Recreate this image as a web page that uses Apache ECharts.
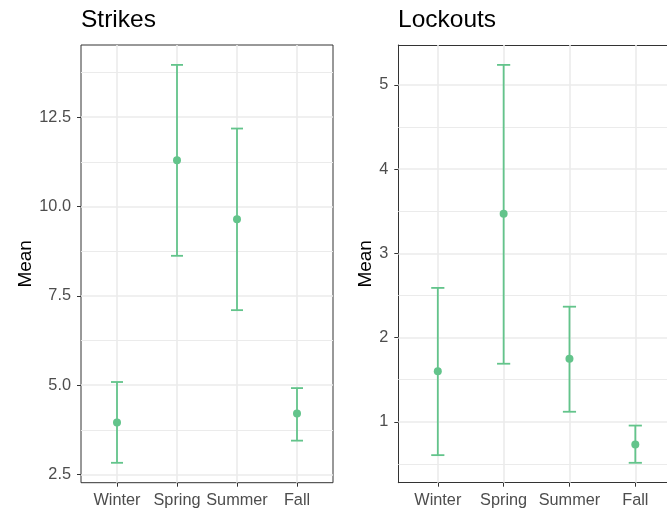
<!DOCTYPE html>
<html>
<head>
<meta charset="utf-8">
<script src="https://cdn.jsdelivr.net/npm/echarts@6/dist/echarts.min.js"></script>
<style>html,body{margin:0;padding:0;background:#fff}#c{width:667px;height:512px}</style>
</head>
<body>
<div id="c"></div>
<script>
const categories = ['Winter', 'Spring', 'Summer', 'Fall'];
const panelTitles = ['Strikes', 'Lockouts'];
const strikesMean = [3.96, 11.29, 9.64, 4.21];
const strikesLower = [2.83, 8.62, 7.10, 3.45];
const strikesUpper = [5.09, 13.96, 12.18, 4.92];
const lockoutsMean = [1.60, 3.47, 1.75, 0.73];
const lockoutsLower = [0.605, 1.69, 1.12, 0.514];
const lockoutsUpper = [2.59, 5.237, 2.367, 0.956];
const strikesTicks = [2.5, 5.0, 7.5, 10.0, 12.5];
const strikesMinor = [3.75, 6.25, 8.75, 11.25, 13.75];
const lockoutsTicks = [1, 2, 3, 4, 5];
const lockoutsMinor = [0.5, 1.5, 2.5, 3.5, 4.5];

const GREEN = '#63c48b';
const BORDER = '#333333';
const FONT = '"Liberation Sans", Arial, sans-serif';
const xPos = categories.map((c, i) => i + 1);

function expand(lo, hi) { const r = hi - lo; return [lo - 0.05 * r, hi + 0.05 * r]; }
const sRange = expand(Math.min(...strikesLower), Math.max(...strikesUpper));
const lRange = expand(Math.min(...lockoutsLower), Math.max(...lockoutsUpper));

// Right panel is wider than the visible canvas (cut off at the right edge)
const W = 667;
const rightLeft = 398.3, rightFullWidth = 276.5;
const rightVisible = W - rightLeft;
const xMin = 0.4, xMaxFull = 4.6;
const xMaxRight = xMin + (xMaxFull - xMin) * rightVisible / rightFullWidth;

const grids = [
  {left: 81, top: 45, width: 252, height: 437.7, show: true, borderColor: BORDER, borderWidth: 1},
  {left: rightLeft, top: 45, width: rightVisible, height: 437.7, show: false}
];

function xAxis(idx, max) {
  return {
    type: 'value', gridIndex: idx, min: xMin, max: max,
    axisLine: {show: idx === 1, lineStyle: {color: BORDER, width: 1}},
    splitLine: {show: false},
    axisTick: {show: true, customValues: xPos, length: 4, lineStyle: {color: BORDER, width: 1}},
    axisLabel: {customValues: xPos, formatter: v => categories[Math.round(v) - 1] || '',
      color: '#4D4D4D', fontSize: 16.3, fontFamily: FONT, margin: 9.5}
  };
}
function yAxis(idx, range, ticks, fmt) {
  return {
    type: 'value', gridIndex: idx, min: range[0], max: range[1],
    name: 'Mean', nameLocation: 'middle', nameGap: idx === 0 ? 45.5 : 23,
    nameTextStyle: {fontSize: 19, fontFamily: FONT, color: '#000'},
    axisLine: {show: idx === 1, lineStyle: {color: BORDER, width: 1}},
    splitLine: {show: false},
    axisTick: {show: true, customValues: ticks, length: 4, lineStyle: {color: BORDER, width: 1}},
    axisLabel: {customValues: ticks, formatter: fmt, color: '#4D4D4D', fontSize: 16.3, fontFamily: FONT, margin: 10}
  };
}

function gridSeries(idx, major, minor) {
  const ml = (data, w) => ({
    type: 'line', xAxisIndex: idx, yAxisIndex: idx, data: [], silent: true, z: 1,
    markLine: {silent: true, symbol: ['none', 'none'], label: {show: false}, animation: false,
      lineStyle: {color: '#EBEBEB', width: w, type: 'solid'}, emphasis: {disabled: true},
      data: data}
  });
  return [
    ml(minor.map(v => ({yAxis: v})), 1),
    ml(major.map(v => ({yAxis: v})).concat(xPos.map(v => ({xAxis: v}))), 1.6)
  ];
}

function errSeries(idx, lower, upper) {
  return {
    type: 'custom', xAxisIndex: idx, yAxisIndex: idx, z: 5,
    data: xPos.map((x, i) => [x, lower[i], upper[i]]),
    encode: {x: 0, y: [1, 2]},
    renderItem: (params, api) => {
      const x = api.value(0), lo = api.value(1), hi = api.value(2);
      const t = api.coord([x, hi]), b = api.coord([x, lo]);
      const tl = api.coord([x - 0.1, hi]), tr = api.coord([x + 0.1, hi]);
      const bl = api.coord([x - 0.1, lo]), br = api.coord([x + 0.1, lo]);
      const st = {stroke: GREEN, lineWidth: 1.8};
      return {type: 'group', children: [
        {type: 'line', shape: {x1: t[0], y1: t[1], x2: b[0], y2: b[1]}, style: st},
        {type: 'line', shape: {x1: tl[0], y1: tl[1], x2: tr[0], y2: tr[1]}, style: st},
        {type: 'line', shape: {x1: bl[0], y1: bl[1], x2: br[0], y2: br[1]}, style: st}
      ]};
    }
  };
}
function pointSeries(idx, means) {
  return {
    type: 'scatter', xAxisIndex: idx, yAxisIndex: idx, z: 6,
    symbol: 'circle', symbolSize: 8, itemStyle: {color: GREEN, opacity: 1},
    data: xPos.map((x, i) => [x, means[i]])
  };
}

const chart = echarts.init(document.getElementById('c'), null, {renderer: 'canvas'});
chart.setOption({
  animation: false,
  backgroundColor: '#fff',
  title: [
    {text: panelTitles[0], left: 81, top: 8, padding: 0, textStyle: {fontSize: 24.5, fontWeight: 'normal', fontFamily: FONT, color: '#000'}},
    {text: panelTitles[1], left: 398, top: 8, padding: 0, textStyle: {fontSize: 24.5, fontWeight: 'normal', fontFamily: FONT, color: '#000'}}
  ],
  grid: grids.map(g => Object.assign({backgroundColor: 'transparent', containLabel: false}, g)),
  xAxis: [
    xAxis(0, xMaxFull),
    xAxis(1, xMaxRight),
    {type: 'value', gridIndex: 1, position: 'top', min: xMin, max: xMaxRight,
     axisLine: {show: true, lineStyle: {color: BORDER, width: 1}}, axisTick: {show: false},
     axisLabel: {show: false}, splitLine: {show: false}}
  ],
  yAxis: [
    yAxis(0, sRange, strikesTicks, v => v.toFixed(1)),
    yAxis(1, lRange, lockoutsTicks, v => String(v))
  ],
  series: [
    ...gridSeries(0, strikesTicks, strikesMinor),
    ...gridSeries(1, lockoutsTicks, lockoutsMinor),
    errSeries(0, strikesLower, strikesUpper),
    errSeries(1, lockoutsLower, lockoutsUpper),
    pointSeries(0, strikesMean),
    pointSeries(1, lockoutsMean)
  ]
});
</script>
</body>
</html>
